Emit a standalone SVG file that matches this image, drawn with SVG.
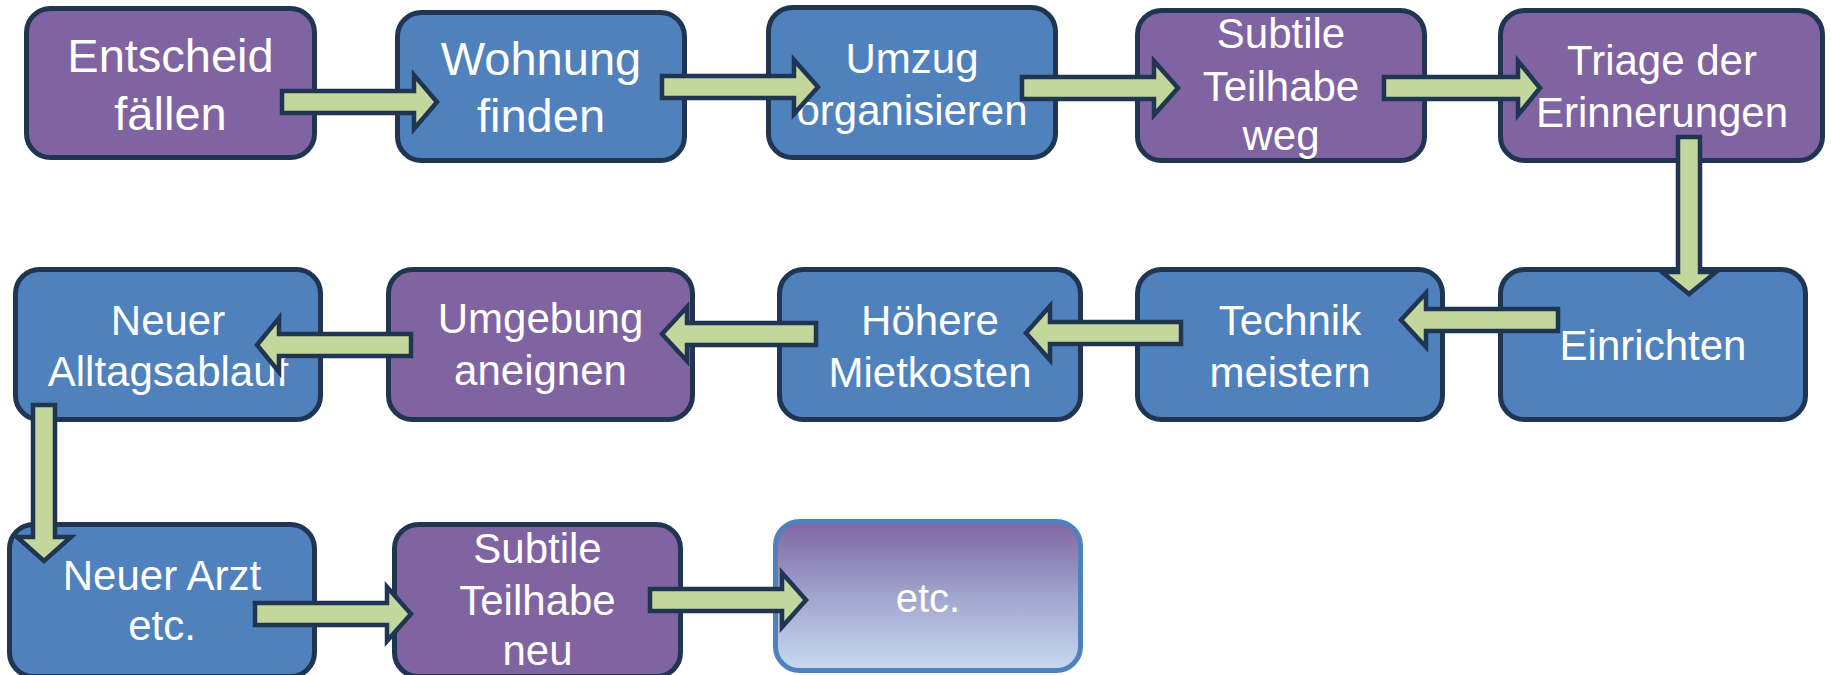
<svg xmlns="http://www.w3.org/2000/svg" width="1831" height="675" viewBox="0 0 1831 675">
<style>
.box{stroke:#1F3552;stroke-width:5}
.p{fill:#8064A2}
.b{fill:#4F81BD}
.t{font-family:"Liberation Sans",Arial,sans-serif;font-size:42px;fill:#FFFFFF;text-anchor:middle}
.big{font-size:47px}
.arr{fill:#C3D69B;stroke:#1F3552;stroke-width:4.5;stroke-linejoin:miter}
</style>
<defs>
<linearGradient id="etcg" x1="0" y1="0" x2="0" y2="1">
<stop offset="0" stop-color="#8064A2"/>
<stop offset="0.5" stop-color="#A0A5CD"/>
<stop offset="1" stop-color="#C8DAF0"/>
</linearGradient>
</defs>
<rect width="1831" height="675" fill="#FFFFFF"/>
<g id="n1"><rect class="box p" x="26.5" y="8.5" width="288" height="149" rx="24"/><text class="t big" x="170.5" y="72">Entscheid</text><text class="t big" x="170.5" y="130">fällen</text></g>
<g id="n2"><rect class="box b" x="397.5" y="12.5" width="287" height="148" rx="24"/><text class="t big" x="541" y="75">Wohnung</text><text class="t big" x="541" y="132">finden</text></g>
<g id="n3"><rect class="box b" x="768.5" y="7.5" width="287" height="150" rx="24"/><text class="t" x="912" y="73">Umzug</text><text class="t" x="912" y="125">organisieren</text></g>
<g id="n4"><rect class="box p" x="1137.5" y="10.5" width="287" height="150" rx="24"/><text class="t" x="1281" y="48">Subtile</text><text class="t" x="1281" y="101">Teilhabe</text><text class="t" x="1281" y="150">weg</text></g>
<g id="n5"><rect class="box p" x="1500.5" y="10.5" width="322" height="150" rx="24"/><text class="t" x="1662" y="75">Triage der</text><text class="t" x="1662" y="127">Erinnerungen</text></g>
<g id="n6"><rect class="box b" x="1500.5" y="269.5" width="305" height="150" rx="24"/><text class="t" x="1653" y="360">Einrichten</text></g>
<g id="n7"><rect class="box b" x="1137.5" y="269.5" width="305" height="150" rx="24"/><text class="t" x="1290" y="335">Technik</text><text class="t" x="1290" y="387">meistern</text></g>
<g id="n8"><rect class="box b" x="779.5" y="269.5" width="301" height="150" rx="24"/><text class="t" x="930" y="335">Höhere</text><text class="t" x="930" y="387">Mietkosten</text></g>
<g id="n9"><rect class="box p" x="388.5" y="269.5" width="304" height="150" rx="24"/><text class="t" x="540.5" y="333">Umgebung</text><text class="t" x="540.5" y="385">aneignen</text></g>
<g id="n10"><rect class="box b" x="15.5" y="269.5" width="305" height="150" rx="24"/><text class="t" x="168" y="335">Neuer</text><text class="t" x="168" y="386">Alltagsablauf</text></g>
<g id="n11"><rect class="box b" x="9.5" y="524.5" width="305" height="152" rx="24"/><text class="t" x="162" y="590">Neuer Arzt</text><text class="t" x="162" y="640">etc.</text></g>
<g id="n12"><rect class="box p" x="394.5" y="524.5" width="286" height="152" rx="24"/><text class="t" x="537.5" y="563">Subtile</text><text class="t" x="537.5" y="615">Teilhabe</text><text class="t" x="537.5" y="665">neu</text></g>
<g id="n13"><rect x="775.5" y="521.5" width="305" height="149" rx="24" fill="url(#etcg)" stroke="#4F81BD" stroke-width="5"/><text class="t" x="928" y="612" style="font-size:40px">etc.</text></g>
<g id="connectors">
<polygon class="arr" points="282,91 414,91 414,75 437,102 414,129 414,113 282,113"/>
<polygon class="arr" points="662,76 794,76 794,60 818,87 794,114 794,98 662,98"/>
<polygon class="arr" points="1022,77 1154,77 1154,61 1178,88 1154,115 1154,99 1022,99"/>
<polygon class="arr" points="1384,77 1518,77 1518,61 1540,88 1518,115 1518,99 1384,99"/>
<polygon class="arr" points="1678,137 1700,137 1700,272 1716,272 1689,294 1662,272 1678,272"/>
<polygon class="arr" points="1558,309 1426,309 1426,293 1401,320 1426,347 1426,331 1558,331"/>
<polygon class="arr" points="1181,322 1050,322 1050,306 1026,333 1050,360 1050,344 1181,344"/>
<polygon class="arr" points="816,323 687,323 687,307 662,334 687,361 687,345 816,345"/>
<polygon class="arr" points="411,334 279,334 279,318 257,345 279,372 279,356 411,356"/>
<polygon class="arr" points="33,405 55,405 55,537 71,537 44,561 17,537 33,537"/>
<polygon class="arr" points="255,603 387,603 387,587 411,614 387,641 387,625 255,625"/>
<polygon class="arr" points="650,589 782,589 782,573 806,600 782,627 782,611 650,611"/>
</g>
</svg>
